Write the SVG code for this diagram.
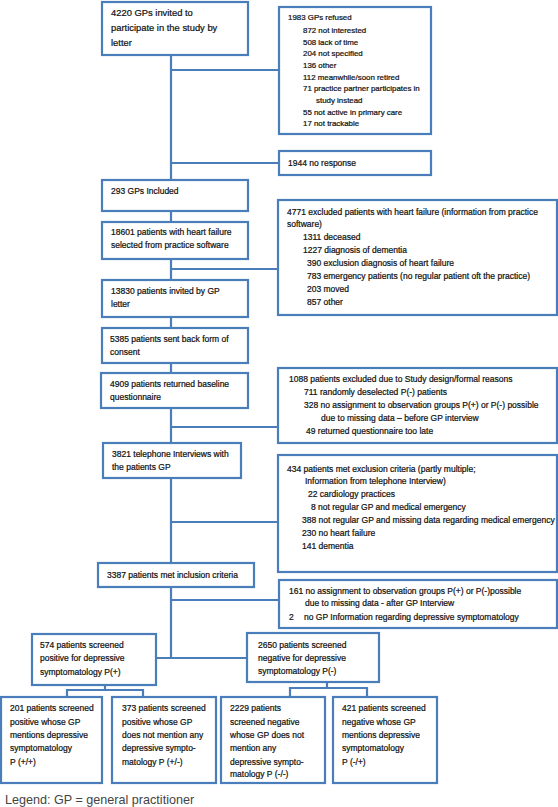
<svg xmlns="http://www.w3.org/2000/svg" width="558" height="807" viewBox="0 0 558 807">
<style>
rect{fill:#fff;stroke:#4a7ebb;stroke-width:2.2}
.c path{fill:none;stroke:#4a7ebb;stroke-width:2.2}
text{font-family:"Liberation Sans",Arial,sans-serif;font-size:8.5px;fill:#111;stroke:#111;stroke-width:0.22px}
.t{font-size:9.4px}
.s{font-size:7.9px}
.lg{font-size:12.6px;fill:#444;stroke:none}
</style>
<rect x="0" y="0" width="558" height="807" style="fill:#fff;stroke:none"/>
<g class="c" id="connectors">
<path d="M171 55V563M171 70H279M171 163H279M171 269H278M171 427H278M171 522H278"/>
<path d="M171 587V658M171 600H279M156 658H247"/>
<path d="M105 685V690M67 697V690H143V697"/>
<path d="M327 682V688M290 697V688H367V697"/>
</g>
<g id="n4220"><rect x="102" y="2" width="146" height="53"/>
<text class="t" x="111" y="15.5">4220 GPs invited to</text>
<text class="t" x="111" y="30.5">participate in the study by</text>
<text class="t" x="111" y="45.5">letter</text></g>
<g id="n1983"><rect x="279" y="7" width="152" height="127"/>
<text class="s" x="288" y="20">1983 GPs refused</text>
<text class="s" x="303" y="33">872 not interested</text>
<text class="s" x="303" y="45">508 lack of time</text>
<text class="s" x="303" y="56">204 not specified</text>
<text class="s" x="303" y="68">136 other</text>
<text class="s" x="303" y="80">112 meanwhile/soon retired</text>
<text class="s" x="303" y="91">71 practice partner participates in</text>
<text class="s" x="316" y="103">study instead</text>
<text class="s" x="303" y="115">55 not active in primary care</text>
<text class="s" x="303" y="126">17 not trackable</text></g>
<g id="n1944"><rect x="279" y="151" width="152" height="24"/>
<text x="288" y="166">1944 no response</text></g>
<g id="n293"><rect x="102" y="180" width="146" height="31"/>
<text x="111" y="194">293 GPs Included</text></g>
<g id="n18601"><rect x="102" y="222" width="146" height="37"/>
<text x="111" y="235">18601 patients with heart failure</text>
<text x="111" y="248">selected from practice software</text></g>
<g id="n4771"><rect x="278" y="200" width="279" height="115"/>
<text x="287" y="215">4771 excluded patients with heart failure (information from practice</text>
<text x="287" y="227">software)</text>
<text x="303" y="240">1311 deceased</text>
<text x="303" y="253">1227 diagnosis of dementia</text>
<text x="307" y="266">390 exclusion diagnosis of heart failure</text>
<text x="307" y="279">783 emergency patients (no regular patient oft the practice)</text>
<text x="307" y="292">203 moved</text>
<text x="307" y="305">857 other</text></g>
<g id="n13830"><rect x="102" y="280" width="146" height="37"/>
<text x="111" y="294">13830 patients invited by GP</text>
<text x="111" y="307">letter</text></g>
<g id="n5385"><rect x="102" y="328" width="146" height="35"/>
<text x="110" y="342">5385 patients sent back form of</text>
<text x="110" y="355">consent</text></g>
<g id="n4909"><rect x="101" y="373" width="147" height="35"/>
<text x="110" y="387">4909 patients returned baseline</text>
<text x="110" y="400">questionnaire</text></g>
<g id="n1088"><rect x="278" y="368" width="279" height="75"/>
<text x="289" y="382">1088 patients excluded due to Study design/formal reasons</text>
<text x="304" y="395">711 randomly deselected P(-) patients</text>
<text x="304" y="408">328 no assignment to observation groups P(+) or P(-) possible</text>
<text x="321" y="421">due to missing data – before GP interview</text>
<text x="306" y="434">49 returned questionnaire too late</text></g>
<g id="n3821"><rect x="103" y="443" width="138" height="35"/>
<text x="112" y="457">3821 telephone Interviews with</text>
<text x="112" y="470">the patients GP</text></g>
<g id="n434"><rect x="278" y="455" width="279" height="117"/>
<text x="287" y="472">434 patients met exclusion criteria (partly multiple;</text>
<text x="305" y="484">Information from telephone Interview)</text>
<text x="308" y="497">22 cardiology practices</text>
<text x="311" y="510">8 not regular GP and medical emergency</text>
<text x="302" y="523">388 not regular GP and missing data regarding medical emergency</text>
<text x="302" y="536">230 no heart failure</text>
<text x="302" y="549">141 dementia</text></g>
<g id="n3387"><rect x="98" y="563" width="156" height="24"/>
<text x="107" y="578">3387 patients met inclusion criteria</text></g>
<g id="n161"><rect x="279" y="580" width="278" height="48"/>
<text x="289" y="594">161 no assignment to observation groups P(+) or P(-)possible</text>
<text x="305" y="606">due to missing data - after GP Interview</text>
<text x="289" y="620">2</text>
<text x="304" y="620">no GP Information  regarding depressive symptomatology</text></g>
<g id="n574"><rect x="32" y="634" width="124" height="51"/>
<text x="40" y="648">574 patients screened</text>
<text x="40" y="661">positive for depressive</text>
<text x="40" y="675">symptomatology P(+)</text></g>
<g id="n2650"><rect x="247" y="633" width="132" height="49"/>
<text x="258" y="648">2650 patients screened</text>
<text x="258" y="661">negative for depressive</text>
<text x="258" y="674">symptomatology P(-)</text></g>
<g id="n201"><rect x="1" y="697" width="101" height="86"/>
<text x="10" y="711">201 patients screened</text>
<text x="10" y="725">positive whose GP</text>
<text x="10" y="738">mentions depressive</text>
<text x="10" y="751">symptomatology</text>
<text x="10" y="765">P (+/+)</text></g>
<g id="n373"><rect x="112" y="697" width="104" height="86"/>
<text x="122" y="711">373 patients screened</text>
<text x="122" y="725">positive whose GP</text>
<text x="122" y="738">does not mention any</text>
<text x="122" y="751">depressive sympto-</text>
<text x="122" y="765">matology P (+/-)</text></g>
<g id="n2229"><rect x="221" y="697" width="104" height="86"/>
<text x="230" y="711">2229 patients</text>
<text x="230" y="725">screened negative</text>
<text x="230" y="738">whose GP does not</text>
<text x="230" y="751">mention any</text>
<text x="230" y="765">depressive sympto-</text>
<text x="230" y="777">matology P (-/-)</text></g>
<g id="n421"><rect x="333" y="697" width="104" height="86"/>
<text x="342" y="711">421 patients screened</text>
<text x="342" y="725">negative whose GP</text>
<text x="342" y="738">mentions depressive</text>
<text x="342" y="751">symptomatology</text>
<text x="342" y="765">P (-/+)</text></g>
<text class="lg" x="5" y="804">Legend: GP = general practitioner</text>
</svg>
